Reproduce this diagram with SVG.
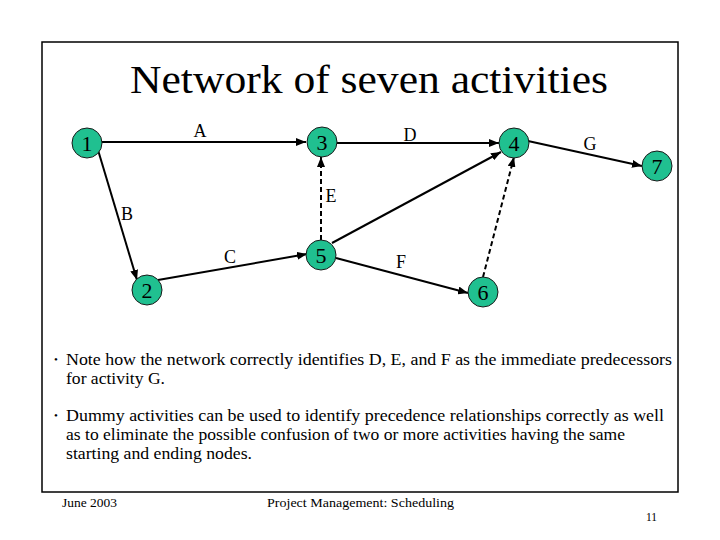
<svg xmlns="http://www.w3.org/2000/svg" width="720" height="540" viewBox="0 0 720 540" font-family="Liberation Serif, DejaVu Serif, serif">
<style>
  .frame{fill:none;stroke:#000;stroke-width:1.5}
  .node circle{fill:#20C090;stroke:#1a1a1a;stroke-width:1}
  .node text{font-size:22px;text-anchor:middle;fill:#000}
  .edge{stroke:#000;stroke-width:2;fill:none;marker-end:url(#arr)}
  .dash{stroke-dasharray:5,3}
  .lbl{font-size:18px;text-anchor:middle;fill:#000}
  .title{font-size:40px;fill:#000}
  .body{font-size:17px;fill:#000}
  .bul{font-size:11px;fill:#000}
  .foot{font-size:13px;fill:#000}
</style>
<defs>
  <marker id="arr" markerUnits="userSpaceOnUse" markerWidth="10" markerHeight="8" refX="10" refY="4" orient="auto">
    <path d="M0,0 L10,4 L0,8 z" fill="#000" stroke="none"/>
  </marker>
</defs>
<rect width="720" height="540" fill="#fff"/>
<rect class="frame" x="42" y="42" width="636" height="450"/>
<text class="title" x="130" y="93" textLength="478" lengthAdjust="spacingAndGlyphs">Network of seven activities</text>

<g id="connectors">
  <line class="edge" x1="102" y1="142" x2="306" y2="142"/>
  <line class="edge" x1="98" y1="150" x2="137" y2="280"/>
  <line class="edge" x1="158" y1="280" x2="307" y2="254"/>
  <line class="edge dash" x1="321" y1="240" x2="321" y2="157"/>
  <line class="edge" x1="337" y1="143" x2="499" y2="143"/>
  <line class="edge" x1="332" y1="243" x2="501" y2="152"/>
  <line class="edge" x1="336" y1="258" x2="468" y2="293"/>
  <line class="edge dash" x1="483" y1="277" x2="514" y2="157"/>
  <line class="edge" x1="528" y1="141" x2="642" y2="166"/>
  <text class="lbl" x="200" y="137">A</text>
  <text class="lbl" x="127" y="220">B</text>
  <text class="lbl" x="230" y="263">C</text>
  <text class="lbl" x="410" y="141">D</text>
  <text class="lbl" x="331" y="202">E</text>
  <text class="lbl" x="401" y="268">F</text>
  <text class="lbl" x="590" y="150">G</text>
</g>

<g id="node1" class="node"><circle cx="87" cy="143" r="15"/><text x="87" y="151">1</text></g>
<g id="node2" class="node"><circle cx="147" cy="290" r="15"/><text x="147" y="298">2</text></g>
<g id="node3" class="node"><circle cx="322" cy="142" r="15"/><text x="322" y="150">3</text></g>
<g id="node4" class="node"><circle cx="514" cy="143" r="15"/><text x="514" y="151">4</text></g>
<g id="node5" class="node"><circle cx="321" cy="255" r="15"/><text x="321" y="263">5</text></g>
<g id="node6" class="node"><circle cx="483" cy="292" r="15"/><text x="483" y="300">6</text></g>
<g id="node7" class="node"><circle cx="657" cy="166" r="15"/><text x="657" y="174">7</text></g>

<g id="notes">
  <text class="bul" x="54" y="363">•</text>
  <text class="body" x="66" y="365" textLength="606" lengthAdjust="spacingAndGlyphs">Note how the network correctly identifies D, E, and F as the immediate predecessors</text>
  <text class="body" x="66" y="384" textLength="99" lengthAdjust="spacingAndGlyphs">for activity G.</text>
  <text class="bul" x="54" y="419">•</text>
  <text class="body" x="66" y="421" textLength="598" lengthAdjust="spacingAndGlyphs">Dummy activities can be used to identify precedence relationships correctly as well</text>
  <text class="body" x="66" y="440" textLength="559" lengthAdjust="spacingAndGlyphs">as to eliminate the possible confusion of two or more activities having the same</text>
  <text class="body" x="66" y="459" textLength="186" lengthAdjust="spacingAndGlyphs">starting and ending nodes.</text>
</g>

<g id="footer">
  <text class="foot" x="62" y="507" textLength="55" lengthAdjust="spacingAndGlyphs">June 2003</text>
  <text class="foot" x="267" y="507" textLength="187" lengthAdjust="spacingAndGlyphs">Project Management: Scheduling</text>
  <text class="foot" x="646" y="521" textLength="11" lengthAdjust="spacingAndGlyphs">11</text>
</g>
</svg>
